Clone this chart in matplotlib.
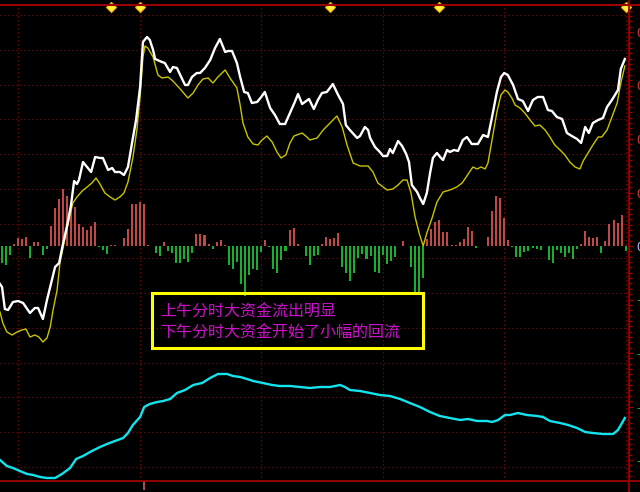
import numpy as np
import matplotlib
matplotlib.use("Agg")
import matplotlib.pyplot as plt
import matplotlib.transforms as mtransforms
from matplotlib.lines import Line2D
from matplotlib.patches import Rectangle
from matplotlib.ticker import MultipleLocator, FuncFormatter

plt.rcParams['font.family'] = ['Noto Sans CJK SC', 'DejaVu Sans']

# ---- intraday data: (minute index, value in thousandths) ----
white = [(-0.5, -38), (0, -41), (0.7, -63), (1.5, -64), (2.7, -56), (4.0, -55), (5.2, -57), (6.9, -67),
         (8.1, -62), (8.9, -62), (10.1, -73), (11.1, -54), (13.1, -21), (14.1, -17), (15.1, 3), (16.0, 19),
         (17.0, 40), (17.8, 65), (18.5, 62), (19.0, 66), (20.0, 84), (21.0, 79), (22.0, 74), (23.0, 89),
         (24.2, 88), (24.9, 88), (26.2, 76), (27.2, 78), (27.9, 74), (29.1, 74), (30.1, 71), (31.1, 79),
         (32.1, 103), (33.1, 126), (34.1, 159), (34.8, 204), (35.8, 209), (36.5, 206), (37.3, 196),
         (37.8, 187), (39.5, 184), (40.2, 183), (41.5, 174), (42.2, 179), (43.2, 178), (44.0, 171),
         (45.2, 161), (45.9, 161), (46.9, 169), (48.1, 173), (48.9, 173), (50.1, 178), (51.4, 186),
         (52.6, 198), (53.8, 207), (55.1, 194), (55.8, 195), (56.8, 195), (58.0, 183), (58.8, 169),
         (59.8, 154), (60.7, 153), (61.7, 143), (63.0, 144), (64.0, 149), (64.9, 154), (66.2, 138),
         (67.4, 131), (68.6, 122), (69.9, 122), (71.1, 133), (72.3, 144), (73.1, 152), (74.1, 142),
         (74.8, 144), (75.8, 147), (77.0, 137), (78.0, 146), (79.0, 153), (80.2, 154), (81.7, 162),
         (83.0, 151), (84.2, 142), (84.9, 121), (85.9, 116), (87.7, 108), (88.4, 110), (89.6, 119),
         (90.4, 116), (90.9, 108), (92.1, 99), (93.3, 94), (94.1, 90), (95.1, 90), (95.8, 97), (96.5, 93),
         (97.8, 105), (98.8, 100), (99.8, 92), (100.5, 84), (101.2, 61), (102.5, 54), (103.2, 48),
         (104.0, 42), (104.9, 53), (105.7, 73), (106.4, 88), (107.4, 93), (108.4, 88), (108.9, 86),
         (109.9, 96), (110.6, 94), (111.6, 96), (112.6, 95), (113.8, 106), (114.8, 109), (116.0, 102),
         (117.5, 102), (118.8, 111), (120.0, 109), (121.0, 129), (122.2, 154), (123.2, 169), (124.0, 173),
         (124.9, 171), (126.2, 161), (127.4, 147), (128.6, 145), (129.9, 135), (131.1, 146), (132.3, 149),
         (133.6, 149), (134.8, 136), (135.8, 135), (137.0, 129), (138.3, 127), (139.5, 113), (140.7, 110),
         (142.0, 107), (143.0, 103), (144.0, 119), (144.9, 113), (145.9, 123), (147.2, 126), (148.4, 128),
         (149.4, 139), (150.6, 146), (152.1, 156), (152.8, 177), (153.8, 187)]

yellow = [(-0.5, -66), (0.2, -77), (1.2, -86), (2.5, -89), (3.7, -86), (4.9, -84), (5.9, -83), (6.9, -91),
          (8.1, -89), (9.1, -91), (10.1, -96), (11.1, -92), (11.9, -81), (12.6, -64), (13.6, -44),
          (14.3, -17), (15.1, -1), (16.0, 16), (16.8, 31), (17.5, 43), (18.5, 49), (19.8, 55), (21.0, 59),
          (22.2, 63), (23.2, 68), (24.2, 62), (25.4, 53), (26.7, 49), (27.9, 46), (29.1, 49), (30.1, 53),
          (31.1, 64), (32.3, 88), (33.3, 116), (34.1, 149), (34.8, 189), (35.3, 200), (36.0, 198),
          (37.3, 189), (38.5, 171), (39.5, 168), (41.0, 169), (42.2, 165), (44.0, 157), (45.9, 148),
          (47.2, 153), (48.4, 161), (49.6, 167), (50.9, 168), (52.1, 163), (53.3, 169), (55.1, 176),
          (56.3, 168), (58.0, 158), (58.8, 141), (59.5, 123), (60.7, 109), (62.0, 102), (63.2, 101),
          (64.2, 106), (65.4, 110), (66.7, 104), (67.9, 94), (68.9, 88), (70.1, 91), (71.1, 103),
          (72.1, 110), (74.1, 113), (75.3, 109), (76.0, 106), (77.8, 108), (79.3, 116), (81.0, 123),
          (82.7, 130), (84.0, 119), (85.2, 101), (86.7, 83), (88.4, 80), (90.4, 80), (91.6, 74), (92.8, 63),
          (94.1, 59), (95.1, 56), (96.5, 57), (97.8, 61), (99.0, 66), (100.0, 66), (101.0, 53), (102.0, 29),
          (103.0, 13), (104.0, 0), (104.9, 13), (106.2, 28), (107.4, 44), (108.9, 54), (110.6, 56),
          (112.3, 59), (113.6, 63), (114.8, 70), (115.6, 75), (116.3, 79), (117.3, 77), (118.3, 79),
          (119.3, 77), (120.0, 83), (121.0, 106), (122.2, 134), (123.2, 151), (124.2, 156), (124.9, 154),
          (125.9, 148), (126.7, 141), (127.9, 138), (129.1, 133), (130.4, 126), (131.6, 120), (132.8, 121),
          (134.1, 116), (135.3, 109), (136.5, 101), (137.8, 96), (139.0, 91), (140.2, 84), (141.5, 79),
          (142.7, 77), (143.5, 85), (144.7, 93), (145.9, 101), (147.2, 109), (148.1, 109), (149.4, 116),
          (150.6, 129), (151.9, 143), (152.8, 163), (153.8, 180)]

cyan = [(-0.5, -214), (1.2, -220), (2.7, -222), (4.4, -225), (6.2, -228), (7.7, -229), (9.4, -231),
        (11.1, -232), (13.1, -232), (14.8, -228), (16.8, -222), (18.3, -213), (20.0, -210), (22.2, -205),
        (24.2, -201), (25.9, -198), (27.9, -195), (29.9, -192), (31.1, -187), (32.3, -179), (34.1, -171),
        (35.1, -161), (36.5, -158), (38.3, -156), (39.8, -155), (41.5, -153), (43.2, -147), (45.2, -144),
        (47.2, -139), (49.4, -137), (51.4, -132), (53.3, -128), (55.6, -128), (57.0, -130), (58.8, -131),
        (60.5, -133), (62.0, -135), (64.4, -137), (66.7, -139), (68.6, -140), (71.1, -140), (73.6, -141),
        (76.0, -142), (78.5, -141), (81.0, -141), (83.5, -139), (84.7, -141), (85.9, -144), (88.4, -145),
        (90.9, -147), (93.3, -149), (95.8, -150), (98.3, -153), (100.7, -157), (103.2, -161),
        (105.7, -166), (108.1, -170), (110.6, -172), (113.1, -174), (115.1, -173), (117.3, -175),
        (119.8, -175), (121.0, -176), (122.5, -174), (124.2, -169), (125.4, -169), (127.4, -167),
        (129.6, -169), (132.1, -170), (133.6, -171), (135.3, -175), (137.8, -177), (139.8, -179),
        (142.0, -182), (144.0, -186), (145.9, -187), (148.4, -188), (150.9, -188), (152.1, -184),
        (153.8, -172)]

# one bar per minute (minute 0 .. 154)
flow_bars = [-17, -19, -9, 2, 8, 7, 9, -12, 4, 4,
             -9, -3, 20, 38, 47, 57, 50, 42, 39, 22,
             19, 16, 20, 24, -1, -4, -8, 1, 1, 0,
             8, 17, 42, 42, 44, 42, 1, 0, -7, -10,
             4, -5, -7, -17, -17, -13, -16, -7, 12, 12,
             11, 2, -3, 4, 6, 1, -19, -23, -16, -38,
             -50, -29, -23, -24, -6, 6, -1, -23, -27, -14,
             -5, 16, 18, 2, 0, -10, -19, -10, -9, 2,
             9, 7, 8, 13, -21, -27, -35, -27, -12, -8,
             -13, -10, -26, -27, -9, -18, -15, -11, 0, 5,
             0, -21, -49, -47, -32, 7, 17, 24, 26, 14,
             14, 1, 1, 4, 7, 19, 15, -2, 0, 0,
             9, 35, 50, 48, 28, 6, -1, -11, -11, -6,
             -5, -2, -3, -4, 0, -14, -17, -4, -7, -11,
             -7, -13, -3, 2, 15, 9, 8, 9, -7, 5,
             22, 26, 23, 31, -5]

signal_minutes = [27, 34, 81, 108, 154]
cursor_minute = [35]
notes = ["上午分时大资金流出明显", "下午分时大资金开始了小幅的回流"]

# ---- figure / frame ----
W, H = 640, 492
FRAME_RIGHT, FRAME_TOP, FRAME_BOTTOM = 628.5, 5, 481
DARK_RED = '#9a0000'

fig = plt.figure(figsize=(W / 100, H / 100), dpi=100, facecolor='black')
ax = fig.add_axes([0, (H - FRAME_BOTTOM) / H, FRAME_RIGHT / W, (FRAME_BOTTOM - FRAME_TOP) / H])
ax.set_facecolor('black')
ax.set_xlim(-0.5, 154.7)
ax.set_ylim(-235, 241)

# dotted grid
for gy in np.linspace(-221, 231, 14):
    ax.axhline(gy, color='#7a0a0a', lw=0.9, ls=(0, (1, 2.2)), zorder=0)
for gx in np.arange(4, 155, 30):
    ax.axvline(gx, color='#7a0a0a', lw=0.9, ls=(0, (1, 2.2)), zorder=0)

# fund-flow bars: inflow red, outflow green
minutes = np.arange(len(flow_bars))
bar_vals = np.array(flow_bars, dtype=float)
pos = bar_vals > 0
ax.bar(minutes[pos], bar_vals[pos], width=0.5, color='#c24848', linewidth=0,
       antialiased=False, zorder=2)
ax.bar(minutes[~pos], bar_vals[~pos], width=0.5, color='#14b02e', linewidth=0,
       antialiased=False, zorder=2)

# lines
yt, yv = zip(*yellow)
ax.plot(yt, yv, color='#c9c400', lw=1.0, zorder=3)
wt, wv = zip(*white)
ax.plot(wt, wv, color='white', lw=1.7, zorder=4)
ct, cv = zip(*cyan)
ax.plot(ct, cv, color='#12e4ee', lw=1.7, zorder=4)

# signal markers along the top edge
trans = mtransforms.blended_transform_factory(ax.transData, ax.transAxes)
ax.plot(signal_minutes, [0.996] * len(signal_minutes), transform=trans, ls='none',
        marker='D', ms=5, mfc='#fff23a', mec='#ffb000', mew=0.8, clip_on=False, zorder=6)

# spines off; frame lines drawn across the full canvas
for s in ax.spines.values():
    s.set_visible(False)
fig.add_artist(Line2D([0, 1], [1 - FRAME_TOP / H] * 2, transform=fig.transFigure, color=DARK_RED, lw=1.5))
fig.add_artist(Line2D([0, 1], [1 - FRAME_BOTTOM / H] * 2, transform=fig.transFigure, color=DARK_RED, lw=1.3))
fig.add_artist(Line2D([FRAME_RIGHT / W] * 2, [0, 1], transform=fig.transFigure, color=DARK_RED, lw=1.3))

# right-hand scale
ax.yaxis.tick_right()
ax.set_yticks(np.arange(-4, 5) * 53.5)
ax.yaxis.set_minor_locator(MultipleLocator(5.35))
ax.yaxis.set_major_formatter(FuncFormatter(lambda v, p: f"{v / 1000:.3f}"))
ax.tick_params(axis='y', which='major', direction='out', length=2.6, width=1.0, color=DARK_RED,
               pad=3.0, labelsize=9)
ax.tick_params(axis='y', which='minor', direction='out', length=1.8, width=1.0, color=DARK_RED)
for lbl, val in zip(ax.get_yticklabels(), ax.get_yticks()):
    if val > 0.5:
        lbl.set_color('#d23c3c')
    elif val < -0.5:
        lbl.set_color('#1cb43a')
    else:
        lbl.set_color('#b8c0ff')

# time cursor tick below the frame
ax.set_xticks(cursor_minute)
ax.tick_params(axis='x', which='major', direction='out', length=6.5, width=1.4, color='#b05050',
               labelbottom=False)

# annotation box
fig.add_artist(Rectangle((152 / W, 1 - 348 / H), 271 / W, 55 / H, transform=fig.transFigure,
                         fill=False, edgecolor='#ffff00', lw=2.2))
fig.text(160 / W, 1 - 312.5 / H, notes[0], color='#cc10cc', fontsize=11.5, va='center', ha='left')
fig.text(160 / W, 1 - 333.5 / H, notes[1], color='#cc10cc', fontsize=11.5, va='center', ha='left')

fig.savefig('out.png', dpi=100, facecolor='black')
